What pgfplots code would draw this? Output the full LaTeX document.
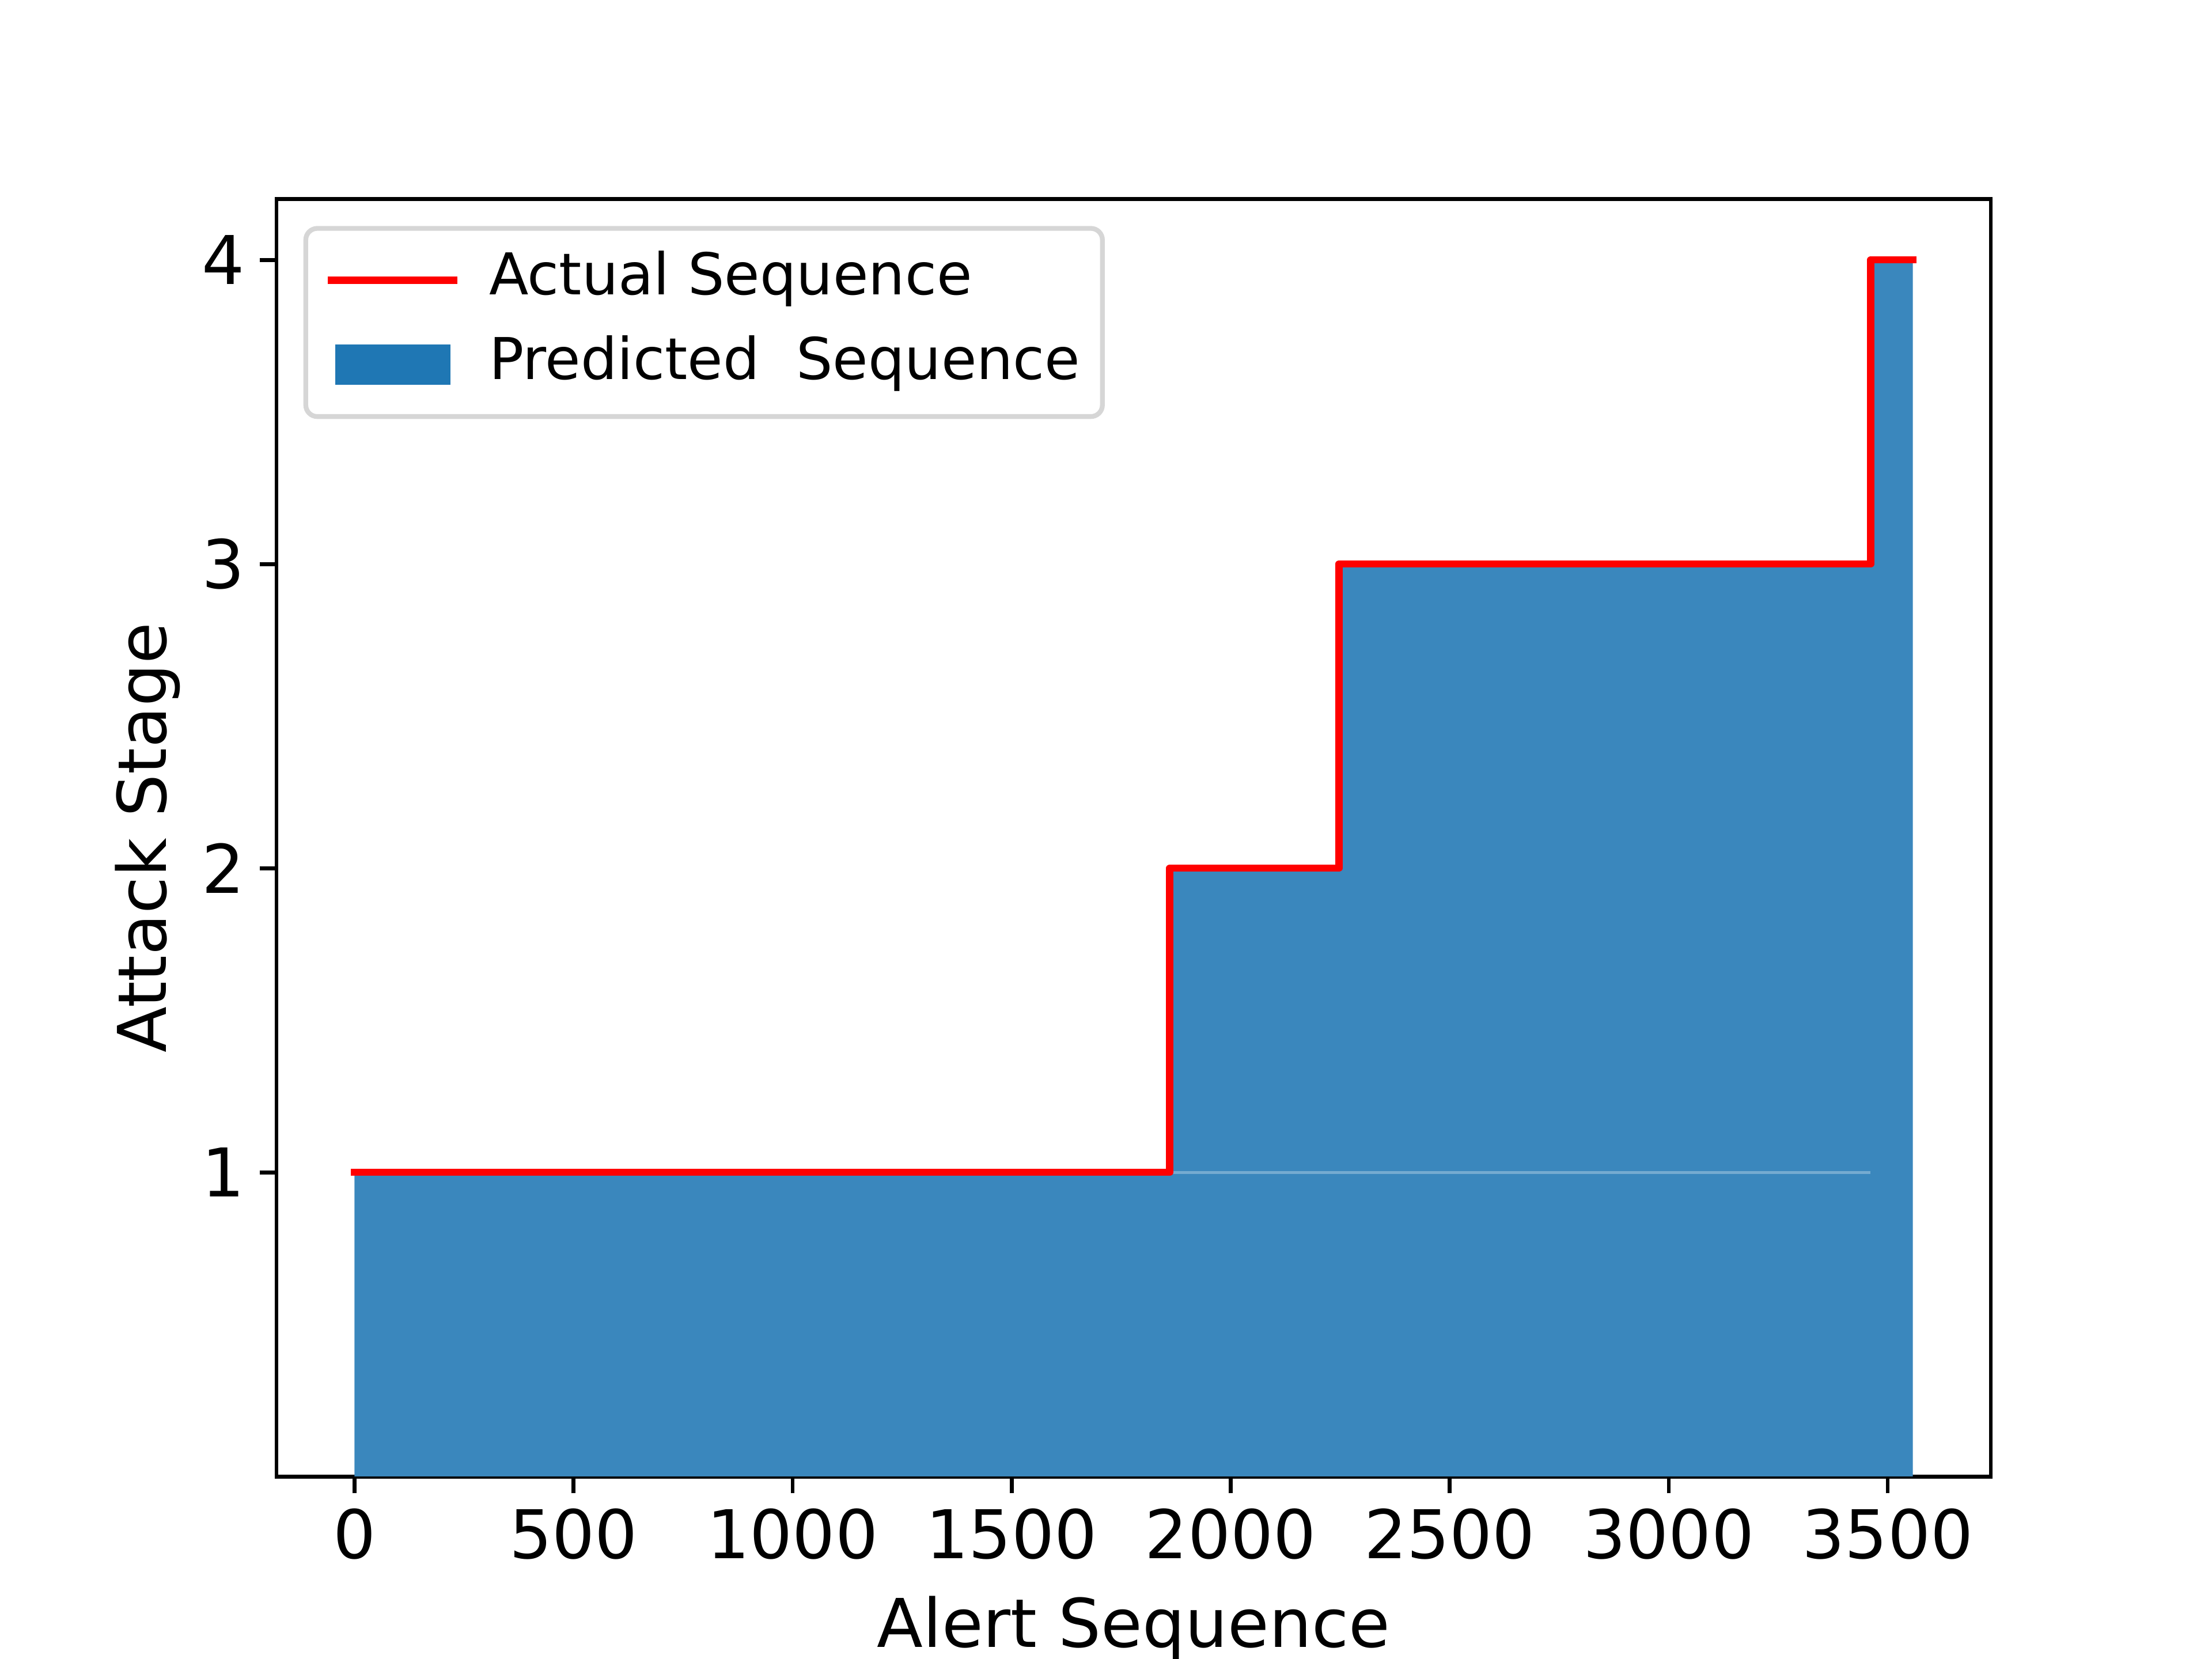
\documentclass[border=0pt]{standalone}
\usepackage{pgfplots}
\pgfplotsset{compat=1.18}
\usepackage{fontspec}
\setmainfont{DejaVu Sans}
\definecolor{mplblue}{HTML}{1F77B4}
\definecolor{barfill}{RGB}{58,135,189}
\definecolor{leggray}{HTML}{D6D6D6}
\begin{document}
\begin{tikzpicture}
\path[use as bounding box] (-57.6pt,-38.016pt) rectangle (403.2pt,307.584pt);
\begin{axis}[
  at={(0pt,0pt)}, anchor=south west,
  scale only axis, width=357.12pt, height=266.11pt,
  xmin=-178.3, xmax=3735.3, ymin=0, ymax=4.2,
  xtick={0,500,1000,1500,2000,2500,3000,3500},
  ytick={1,2,3,4},
  scaled ticks=false,
  /pgf/number format/1000 sep={},
  /pgf/number format/assume math mode=true,
  tick align=outside, xtick pos=lower, ytick pos=left,
  major tick length=3.5pt,
  every tick/.style={black, line width=0.8pt},
  axis line style={line width=0.8pt},
  tick label style={font=\fontsize{14}{17}\selectfont},
  xticklabel style={inner sep=0pt, anchor=north, yshift=-3.0pt},
  yticklabel style={inner sep=0pt, anchor=east, xshift=-2.9pt},
  xlabel={Alert Sequence}, ylabel={Attack Stage},
  label style={font=\fontsize{14}{17}\selectfont, inner sep=0pt},
  xlabel style={at={(axis description cs:0.5,-0.1337)}, anchor=base},
  ylabel style={at={(axis description cs:-0.0644,0.5)}, anchor=base, rotate=0},
  legend style={at={(axis description cs:0,1)}, xshift=5.6pt, yshift=-5.6pt,
    anchor=north west, draw=leggray, line width=1pt, rounded corners=2.4pt,
    inner xsep=4.6pt, inner ysep=4.8pt, row sep=5.6pt,
    font=\fontsize{12}{14.4}\selectfont,
    nodes={inner sep=0pt, text height=9pt, text depth=3pt},
    /tikz/every odd column/.append style={column sep=6.6pt}},
  legend cell align=left,
]
\addplot[fill=barfill, draw=none, const plot, forget plot]
  coordinates {(-0.4,1) (1861,2) (2247,3) (3461,4) (3557.4,4)} \closedcycle;
\addplot[white, opacity=0.3, line width=0.6pt, forget plot]
  coordinates {(1861.5,1) (3460.5,1)};
\addplot[red, line width=1.5pt, line join=round, line cap=rect, no markers,
  legend image code/.code={\path (0pt,0pt) -- (25.5pt,0pt);
    \draw[red, line width=1.5pt, line cap=rect, sharp corners] (0.75pt,0pt) -- (24.75pt,0pt);}]
  coordinates {(0,1) (1861,1) (1861,2) (2247,2) (2247,3) (3461,3) (3461,4) (3557,4)};
\addlegendentry{Actual Sequence}
\addlegendimage{no markers, draw=none,
  legend image code/.code={\path (0pt,0pt) -- (25.5pt,0pt);
    \path[fill=mplblue, draw=none, sharp corners] (0.75pt,-4.2pt) rectangle (24.75pt,4.2pt);}}
\addlegendentry{Predicted~~Sequence}
\end{axis}
\end{tikzpicture}
\end{document}
